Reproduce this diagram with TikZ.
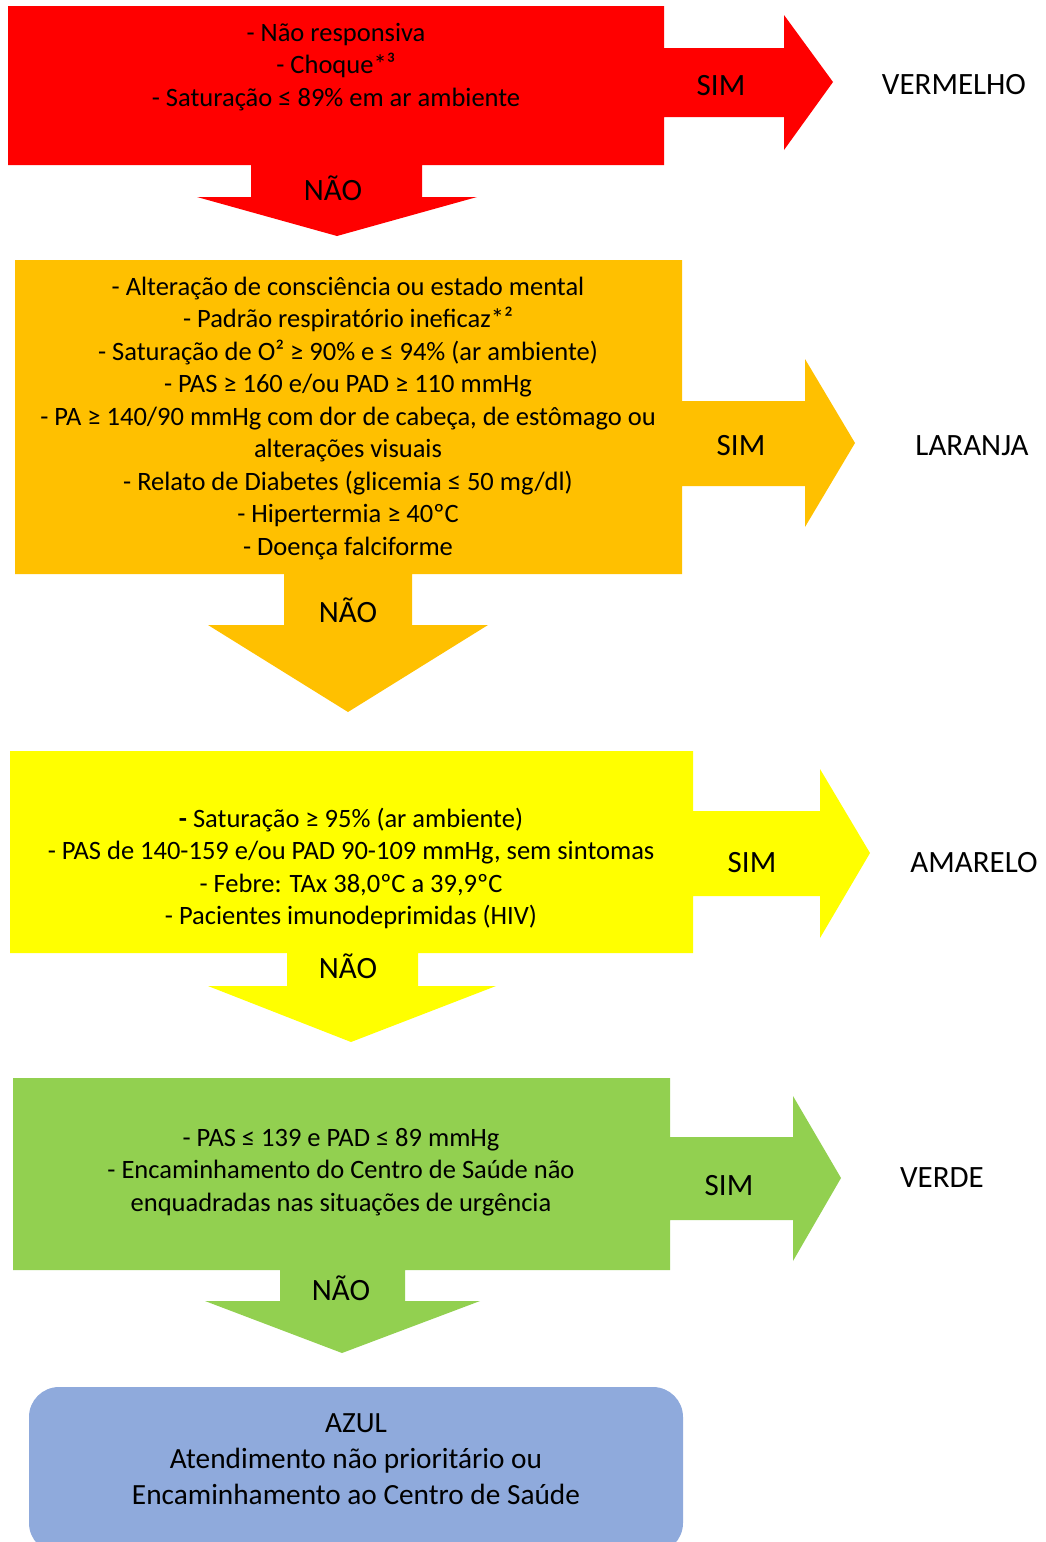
\documentclass[tikz,border=0pt]{standalone}
\usepackage{fontspec}
\setmainfont{Carlito}
\definecolor{cRed}{HTML}{FF0000}
\definecolor{cOrange}{HTML}{FFC000}
\definecolor{cYellow}{HTML}{FFFF00}
\definecolor{cGreen}{HTML}{92D050}
\definecolor{cBlue}{HTML}{8FAADC}
\begin{document}
\begin{tikzpicture}[x=1pt,y=-1pt,
  body/.style={anchor=base,inner sep=0pt,font=\fontsize{26.5}{32.5}\selectfont},
  lab/.style={anchor=base,inner sep=0pt,font=\fontsize{31}{37}\selectfont},
  final/.style={anchor=base,inner sep=0pt,font=\fontsize{29.3}{36}\selectfont}]
\useasboundingbox (0,0) rectangle (1046,1542);
\begin{scope}
\clip (0,0) rectangle (1046,1542);

% red level: box, SIM arrow, NAO arrow
\fill[cRed] (8,6) -- (664,6) -- (664,48) -- (784,48) -- (784,15) -- (833,82)
  -- (784,150) -- (784,117) -- (664,117) -- (664,165) -- (422,165) -- (422,197)
  -- (477,197) -- (337,236) -- (197,197) -- (251,197) -- (251,165) -- (8,165) -- cycle;

% orange level
\fill[cOrange] (15,260) -- (682,260) -- (682,401) -- (805,401) -- (805,359) -- (855,443)
  -- (805,527) -- (805,486) -- (682,486) -- (682,574) -- (412,574) -- (412,625)
  -- (488,625) -- (348,712) -- (208,625) -- (284,625) -- (284,574) -- (15,574) -- cycle;

% yellow level
\fill[cYellow] (10,751) -- (693,751) -- (693,811) -- (820,811) -- (820,769) -- (870,853)
  -- (820,938) -- (820,896) -- (693,896) -- (693,953) -- (418,953) -- (418,986)
  -- (496,986) -- (351,1042) -- (208,986) -- (287,986) -- (287,953) -- (10,953) -- cycle;

% green level
\fill[cGreen] (13,1078) -- (670,1078) -- (670,1137) -- (793,1137) -- (793,1096) -- (841,1178)
  -- (793,1261) -- (793,1220) -- (670,1220) -- (670,1270) -- (405,1270) -- (405,1301)
  -- (480,1301) -- (342,1353) -- (205,1301) -- (280,1301) -- (280,1270) -- (13,1270) -- cycle;

% blue final box
\fill[cBlue, rounded corners=30pt] (29,1387) rectangle (683,1553);
\end{scope}

% red texts
\node[body] (r1) at (336,41) {- Não responsiva};
\node[body] (r2) at (336,73.5) {- Choque*³};
\node[body] (r3) at (336,106) {- Saturação ≤ 89\% em ar ambiente};
\node[lab] (rsim) at (721,95) {SIM};
\node[lab] (rnao) at (333,200) {NÃO};
\node[lab] (rres) at (954,94) {VERMELHO};

% orange texts
\node[body] (o1) at (348,295) {- Alteração de consciência ou estado mental};
\node[body] (o2) at (348,327.5) {- Padrão respiratório ineficaz*²};
\node[body] (o3) at (348,360) {- Saturação de O² ≥ 90\% e ≤ 94\% (ar ambiente)};
\node[body] (o4) at (348,392.5) {- PAS ≥ 160 e/ou PAD ≥ 110 mmHg};
\node[body] (o5) at (348,425) {- PA ≥ 140/90 mmHg com dor de cabeça, de estômago ou};
\node[body] (o6) at (348,457.5) {alterações visuais};
\node[body] (o7) at (348,490) {- Relato de Diabetes (glicemia ≤ 50 mg/dl)};
\node[body] (o8) at (348,522.5) {- Hipertermia ≥ 40ºC};
\node[body] (o9) at (348,555) {- Doença falciforme};
\node[lab] (osim) at (741,455) {SIM};
\node[lab] (onao) at (348,622) {NÃO};
\node[lab] (ores) at (972,455) {LARANJA};

% yellow texts
\node[body] (y1) at (351,827) {{\bfseries -} Saturação ≥ 95\% (ar ambiente)};
\node[body] (y2) at (351,859.5) {- PAS de 140-159 e/ou PAD 90-109 mmHg, sem sintomas};
\node[body] (y3) at (351,892) {- Febre: TAx 38,0ºC a 39,9ºC};
\node[body] (y4) at (351,924.5) {- Pacientes imunodeprimidas (HIV)};
\node[lab] (ysim) at (752,872) {SIM};
\node[lab] (ynao) at (348,978) {NÃO};
\node[lab] (yres) at (974,872) {AMARELO};

% green texts
\node[body] (g1) at (341,1146) {- PAS ≤ 139 e PAD ≤ 89 mmHg};
\node[body] (g2) at (341,1178.5) {- Encaminhamento do Centro de Saúde não};
\node[body] (g3) at (341,1211) {enquadradas nas situações de urgência};
\node[lab] (gsim) at (729,1195) {SIM};
\node[lab] (gnao) at (341,1300) {NÃO};
\node[lab] (gres) at (942,1187) {VERDE};

% blue texts
\node[final] (b1) at (356,1432) {AZUL};
\node[final] (b2) at (356,1468) {Atendimento não prioritário ou};
\node[final] (b3) at (356,1504) {Encaminhamento ao Centro de Saúde};
\end{tikzpicture}
\end{document}
